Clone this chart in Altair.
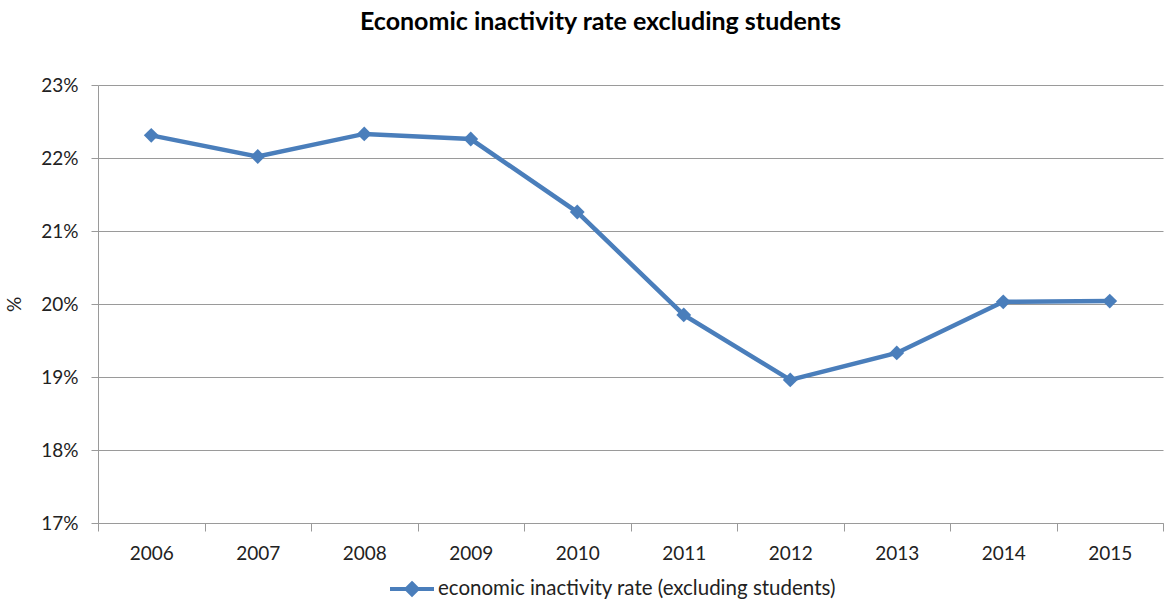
import altair as alt
import pandas as pd

years = ["2006", "2007", "2008", "2009", "2010", "2011", "2012", "2013", "2014", "2015"]
values = [22.31, 22.02, 22.33, 22.26, 21.26, 19.85, 18.96, 19.33, 20.03, 20.04]
series_name = "economic inactivity rate (excluding students)"
y_ticks = [17, 18, 19, 20, 21, 22, 23]

df = pd.DataFrame({"year": years, "value": values, "series": [series_name] * len(years)})

FONT = "Lato"
BLUE = "#4a7ebb"
GRAY = "#9a9a9a"

legend_path = "M-1,0L1,0M0,-0.25L0.25,0L0,0.25L-0.25,0Z"

chart = (
    alt.Chart(df)
    .mark_line(
        strokeWidth=4.5,
        point=alt.OverlayMarkDef(shape="diamond", size=220, filled=True, opacity=1),
    )
    .encode(
        x=alt.X(
            "year:O",
            bandPosition=0.5,
            scale=alt.Scale(type="band", paddingInner=0, paddingOuter=0),
            axis=alt.Axis(
                title=None,
                labelAngle=0,
                tickBand="extent",
                tickSize=8,
                labelPadding=13,
                grid=False,
                domainColor=GRAY,
                tickColor=GRAY,
                labelFont=FONT,
                labelFontSize=19,
                labelColor="#222222",
            ),
        ),
        y=alt.Y(
            "value:Q",
            scale=alt.Scale(domain=[17, 23], nice=False, zero=False),
            axis=alt.Axis(
                title="%",
                values=y_ticks,
                labelExpr="datum.value + '%'",
                tickSize=7,
                labelPadding=13,
                grid=True,
                gridColor=GRAY,
                domainColor=GRAY,
                tickColor=GRAY,
                labelFont=FONT,
                labelFontSize=19,
                labelColor="#222222",
                titleFont=FONT,
                titleFontSize=19,
                titleFontWeight="normal",
                titleColor="#222222",
                titlePadding=16,
            ),
        ),
        color=alt.Color(
            "series:N",
            scale=alt.Scale(range=[BLUE]),
            legend=alt.Legend(
                title=None,
                orient="none",
                legendX=290,
                legendY=480,
                symbolType=legend_path,
                symbolSize=1936,
                symbolStrokeWidth=4,
                symbolFillColor=BLUE,
                symbolStrokeColor=BLUE,
                labelFont=FONT,
                labelFontSize=20.5,
                labelColor="#222222",
                labelOffset=2,
                labelLimit=0,
            ),
        ),
    )
    .properties(
        width=1065,
        height=438,
        title=alt.TitleParams(
            "Economic inactivity rate excluding students",
            font=FONT,
            fontSize=25,
            fontWeight="bold",
            color="#000000",
            anchor="middle",
            dx=-30,
            offset=41,
        ),
        autosize=alt.AutoSizeParams(type="none"),
        padding={"left": 98, "top": 85, "right": 4, "bottom": 77},
    )
    .configure_view(stroke=None)
)

chart.save("out.html", embed_options={"renderer": "svg", "actions": False})
